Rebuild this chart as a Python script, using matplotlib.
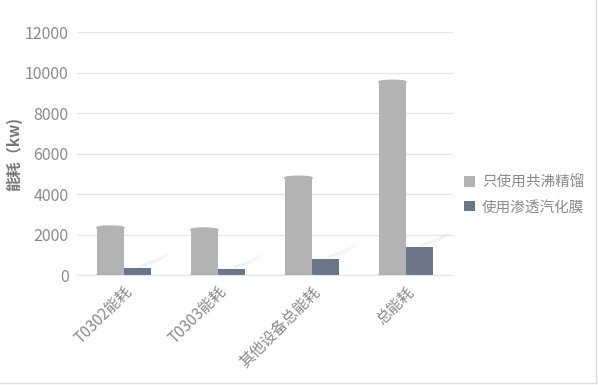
import matplotlib
matplotlib.use('Agg')
import matplotlib.pyplot as plt
from matplotlib.patches import Ellipse
import numpy as np

plt.rcParams['font.family'] = ['Noto Sans CJK SC', 'DejaVu Sans']

categories = ['T0302能耗', 'T0303能耗', '其他设备总能耗', '总能耗']
azeo = [2420, 2320, 4880, 9620]
membrane = [350, 300, 800, 1400]
series_names = ['只使用共沸精馏', '使用渗透汽化膜']
colors = ['#b2b3b2', '#6a7788']
text_color = '#8a8a8a'

fig = plt.figure(figsize=(5.99, 3.85), dpi=100)
ax = fig.add_axes([0.1285, 0.2857, 0.628, 0.631])

x = np.arange(len(categories))
w = 0.29
cap = 170
# grey bars drawn as cylinders: the top cap ends at the value
ax.bar(x - w / 2, np.array(azeo) - cap / 2, w, color=colors[0], label=series_names[0], zorder=3)
ax.bar(x + w / 2, membrane, w, color=colors[1], label=series_names[1], zorder=3)
for xi, v in zip(x, azeo):
    ax.add_patch(Ellipse((xi - w / 2, v - cap / 2), w, cap, color=colors[0], zorder=3))
    ax.add_patch(Ellipse((xi - w / 2, 0), w, 140, color=colors[0], zorder=3))

# soft shadows next to the dark bars
for xi, v in zip(x, membrane):
    for k in range(8):
        d = 0.04 + k * 0.02
        ax.fill([xi + w / 2, xi + w + d, xi + w + d + 0.05, xi + w / 2 + 0.05],
                [v, v + 150 + k * 60, v + 350 + k * 80, v + 200],
                color='#000000', alpha=0.008, lw=0, zorder=2)

ax.set_xlim(-0.5, 3.5)
ax.set_ylim(0, 12000)
ax.set_yticks(range(0, 12001, 2000))
ax.grid(axis='y', color='#e6e6e6', lw=1, zorder=0)
ax.set_axisbelow(True)
for s in ['top', 'right', 'left']:
    ax.spines[s].set_visible(False)
ax.spines['bottom'].set_color('#e6e6e6')
ax.tick_params(axis='both', length=0, colors=text_color, pad=6)
ax.tick_params(axis='y', labelsize=11.5)
ax.set_xticks(x)
ax.set_xticklabels(categories, rotation=45, ha='right', rotation_mode='anchor', fontsize=11)
ax.set_ylabel('能耗（kw)', color='#777777', fontsize=11, fontweight='bold', labelpad=2)

ax.legend(loc='center left', bbox_to_anchor=(0.995, 0.33), frameon=False,
          fontsize=10.5, handlelength=0.7, handleheight=0.7, handletextpad=0.5,
          labelspacing=0.75, labelcolor=text_color)

# light frame lines at right and bottom
fig.add_artist(plt.Line2D([0.9955, 0.9955], [0.005, 1], color='#dddddd', lw=1))
fig.add_artist(plt.Line2D([0, 0.9955], [0.006, 0.006], color='#dddddd', lw=1))

fig.savefig('out.png', dpi=100)
